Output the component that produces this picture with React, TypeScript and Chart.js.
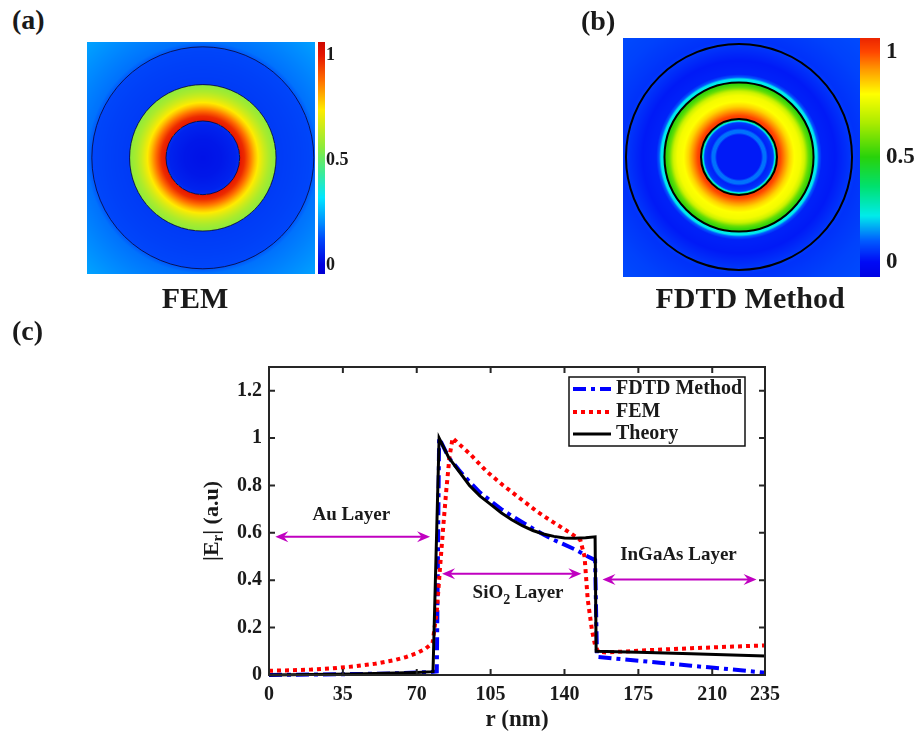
import React, { useEffect, useRef } from 'react';
import { Chart, registerables } from 'chart.js';

Chart.register(...registerables);

const SERIF = "'Liberation Serif', 'Times New Roman', Times, serif";
const TEXT = '#1a1a1a';

// ---------- panel (c): |E_r| versus r (nm)
const xTickValues = [0, 35, 70, 105, 140, 175, 210, 235];
const yTickValues = [0, 0.2, 0.4, 0.6, 0.8, 1, 1.2];

const fdtdR = [0, 20, 40, 60, 75, 79.5, 80.6, 85, 90, 95, 100, 105, 110, 115, 120, 125, 130, 135, 140, 145, 150, 154.5, 155.4, 170, 185, 200, 215, 235];
const fdtdV = [0, 0.002, 0.004, 0.007, 0.012, 0.015, 1.0, 0.92, 0.865, 0.815, 0.77, 0.735, 0.7, 0.672, 0.645, 0.618, 0.593, 0.57, 0.55, 0.53, 0.505, 0.485, 0.077, 0.064, 0.052, 0.039, 0.027, 0.01];

const femR = [0, 10, 20, 30, 40, 50, 60, 65, 70, 74, 77.5, 79.5, 81, 82.5, 84, 85.5, 87, 90, 95, 103, 111, 119, 127, 134.6, 142.6, 147.5, 149.5, 151, 153, 154.5, 156, 160, 180, 200, 220, 235];
const femV = [0.018, 0.02, 0.023, 0.028, 0.036, 0.047, 0.064, 0.076, 0.092, 0.11, 0.135, 0.27, 0.45, 0.62, 0.78, 0.92, 1.0, 0.975, 0.935, 0.86, 0.8, 0.745, 0.69, 0.645, 0.6, 0.57, 0.5, 0.32, 0.19, 0.125, 0.098, 0.095, 0.105, 0.113, 0.12, 0.125];

const theoryR = [0, 20, 40, 60, 70, 77.7, 80.6, 85, 90, 95, 100, 105, 110, 115, 120, 125, 130, 135, 140, 145, 150, 154.5, 155, 175, 200, 235];
const theoryV = [0, 0.002, 0.004, 0.008, 0.011, 0.014, 1.0, 0.92, 0.86, 0.8, 0.755, 0.72, 0.685, 0.655, 0.63, 0.61, 0.595, 0.585, 0.578, 0.577, 0.579, 0.583, 0.1, 0.096, 0.09, 0.08];

// layer annotations (data units)
const layerNames = ['Au Layer', 'SiO2 Layer', 'InGaAs Layer'];
const layerArrowFrom = [3, 82, 158];
const layerArrowTo = [76.3, 148, 231];
const layerArrowY = [0.583, 0.427, 0.403];
const layerLabelR = [39, 118, 194];
const layerLabelY = [0.675, 0.345, 0.505];

// ---------- panels (a) and (b): radial field maps
const femMapR = [0, 40, 70, 77.9, 78.1, 88, 98, 110, 120, 130, 140, 150, 154.9, 155.1, 200, 234.9, 235.1, 245, 300, 345];
const femMapV = [0.03, 0.04, 0.06, 0.08, 1.0, 0.97, 0.89, 0.79, 0.72, 0.66, 0.61, 0.575, 0.56, 0.1, 0.11, 0.12, 0.14, 0.17, 0.2, 0.23];
const fdtdMapR = [0, 46, 50, 56, 60, 66, 71, 74, 77, 78.9, 79.1, 86, 95, 105, 115, 128, 136, 144, 150, 154.9, 155.1, 157, 162, 166, 172, 200, 228, 235, 245, 300, 350];
const fdtdMapV = [0.02, 0.02, 0.12, 0.12, 0.03, 0.04, 0.06, 0.2, 0.38, 0.6, 1.03, 1.0, 0.93, 0.85, 0.8, 0.78, 0.72, 0.58, 0.52, 0.5, 0.14, 0.22, 0.22, 0.1, 0.03, 0.02, 0.05, 0.06, 0.05, 0.07, 0.08];
const femBoundaries = [78, 155, 235];
const fdtdBoundaries = [79, 155, 235];
const colorbarTicks = [0, 0.5, 1];

const jetA: number[][] = [
  [-0.1, 0, 0, 190], [0, 0, 0, 225], [0.12, 0, 70, 250], [0.2, 0, 140, 255], [0.32, 0, 230, 255],
  [0.44, 60, 235, 150], [0.56, 140, 235, 60], [0.74, 255, 235, 0], [0.88, 255, 110, 0], [1.0, 230, 20, 0], [1.1, 190, 0, 0],
];
const jetB: number[][] = [
  [-0.1, 0, 0, 220], [0, 0, 10, 245], [0.1, 0, 90, 255], [0.22, 0, 235, 235], [0.36, 0, 225, 110],
  [0.5, 40, 210, 10], [0.66, 170, 235, 0], [0.8, 255, 255, 0], [0.92, 255, 150, 0], [1.0, 255, 70, 0], [1.1, 225, 20, 0],
];

function interp(xs: number[], ys: number[], x: number) {
  if (x <= xs[0]) return ys[0];
  const n = xs.length;
  if (x >= xs[n - 1]) return ys[n - 1];
  let i = 1;
  while (xs[i] < x) i++;
  const t = (x - xs[i - 1]) / (xs[i] - xs[i - 1]);
  return ys[i - 1] + t * (ys[i] - ys[i - 1]);
}

function cmap(stops: number[][], v: number): number[] {
  if (v <= stops[0][0]) return stops[0].slice(1);
  const n = stops.length;
  if (v >= stops[n - 1][0]) return stops[n - 1].slice(1);
  let i = 1;
  while (stops[i][0] < v) i++;
  const a = stops[i - 1], b = stops[i];
  const t = (v - a[0]) / (b[0] - a[0]);
  return [0, 1, 2].map((k) => Math.round(a[k + 1] + t * (b[k + 1] - a[k + 1])));
}

type HeatCfg = {
  mapR: number[]; mapV: number[]; stops: number[][]; boundaries: number[];
  lineColor: string; lineWidth: number; cbGap: number; cbWidth: number;
  xMin: number; xMax: number; yMin: number; yMax: number; cbMin: number; cbMax: number;
  pad: { left: number; right: number; top: number; bottom: number }; cbAxisWidth: number; cbPad: number; fontSize: number;
};

function makeHeatmap(canvas: HTMLCanvasElement, cfg: HeatCfg) {
  const heatPlugin = {
    id: 'radialHeat',
    beforeDatasetsDraw(chart: any) {
      const { ctx, chartArea: a, scales } = chart;
      const xs = scales.x, ys = scales.y, cb = scales.cb;
      const left = Math.round(a.left), top = Math.round(a.top);
      const w = Math.round(a.right) - left, h = Math.round(a.bottom) - top;
      const img = ctx.createImageData(w, h);
      for (let j = 0; j < h; j++) {
        const yv = ys.getValueForPixel(top + j + 0.5);
        for (let i = 0; i < w; i++) {
          const xv = xs.getValueForPixel(left + i + 0.5);
          const v = interp(cfg.mapR, cfg.mapV, Math.hypot(xv, yv));
          const c = cmap(cfg.stops, v);
          const k = (j * w + i) * 4;
          img.data[k] = c[0]; img.data[k + 1] = c[1]; img.data[k + 2] = c[2]; img.data[k + 3] = 255;
        }
      }
      ctx.putImageData(img, left, top);
      ctx.save();
      const cx = xs.getPixelForValue(0), cy = ys.getPixelForValue(0);
      ctx.strokeStyle = cfg.lineColor;
      ctx.lineWidth = cfg.lineWidth;
      for (const b of cfg.boundaries) {
        const rx = xs.getPixelForValue(b) - cx;
        const ry = cy - ys.getPixelForValue(b);
        ctx.beginPath();
        ctx.ellipse(cx, cy, rx, ry, 0, 0, Math.PI * 2);
        ctx.stroke();
      }
      const x0 = a.right + cfg.cbGap;
      for (let py = top; py < top + h; py++) {
        const c = cmap(cfg.stops, cb.getValueForPixel(py + 0.5));
        ctx.fillStyle = `rgb(${c[0]},${c[1]},${c[2]})`;
        ctx.fillRect(x0, py, cfg.cbWidth, 1);
      }
      ctx.restore();
    },
  };
  return new Chart(canvas, {
    type: 'scatter',
    data: { datasets: [] },
    options: {
      responsive: false,
      animation: false,
      events: [],
      layout: { padding: cfg.pad },
      plugins: { legend: { display: false }, tooltip: { enabled: false } },
      scales: {
        x: { type: 'linear', min: cfg.xMin, max: cfg.xMax, display: false },
        y: { type: 'linear', min: cfg.yMin, max: cfg.yMax, display: false },
        cb: {
          axis: 'y', type: 'linear', position: 'right', min: cfg.cbMin, max: cfg.cbMax,
          grid: { display: false, drawTicks: false }, border: { display: false },
          afterBuildTicks: (s: any) => { s.ticks = colorbarTicks.map((v) => ({ value: v })); },
          afterFit: (s: any) => { s.width = cfg.cbAxisWidth; s.paddingTop = 0; s.paddingBottom = 0; },
          ticks: { padding: cfg.cbPad, color: TEXT, font: { family: SERIF, size: cfg.fontSize, weight: 'bold' }, callback: (v: any) => String(v) },
        },
      },
    } as any,
    plugins: [heatPlugin],
  });
}

function drawSegments(ctx: CanvasRenderingContext2D, segs: { t: string; size: number; dy: number }[], cx: number, cy: number) {
  let total = 0;
  for (const s of segs) { ctx.font = `bold ${s.size}px ${SERIF}`; total += ctx.measureText(s.t).width; }
  let x = cx - total / 2;
  ctx.textAlign = 'left';
  ctx.textBaseline = 'middle';
  for (const s of segs) {
    ctx.font = `bold ${s.size}px ${SERIF}`;
    ctx.fillText(s.t, x, cy + s.dy);
    x += ctx.measureText(s.t).width;
  }
}

function labelSegments(name: string) {
  const m = name.match(/^([A-Za-z]+?)(\d)(.*)$/);
  if (!m) return [{ t: name, size: 19, dy: 0 }];
  return [{ t: m[1], size: 19, dy: 0 }, { t: m[2], size: 14, dy: 7 }, { t: m[3], size: 19, dy: 0 }];
}

function drawArrowHead(ctx: CanvasRenderingContext2D, x: number, y: number, dir: number) {
  const hl = 13, hw = 5.5;
  ctx.beginPath();
  ctx.moveTo(x, y);
  ctx.lineTo(x + dir * hl, y - hw);
  ctx.lineTo(x + dir * hl * 0.65, y);
  ctx.lineTo(x + dir * hl, y + hw);
  ctx.closePath();
  ctx.fill();
}

function makeProfile(canvas: HTMLCanvasElement) {
  const pts = (rs: number[], vs: number[]) => rs.map((r, i) => ({ x: r, y: vs[i] }));
  const framePlugin = {
    id: 'frameTicks',
    afterDatasetsDraw(chart: any) {
      const { ctx, chartArea: a, scales } = chart;
      ctx.save();
      ctx.strokeStyle = '#262626';
      ctx.lineWidth = 2;
      ctx.strokeRect(a.left, a.top, a.right - a.left, a.bottom - a.top);
      const tl = 6;
      ctx.beginPath();
      for (const t of scales.x.ticks) {
        const px = scales.x.getPixelForValue(t.value);
        ctx.moveTo(px, a.bottom); ctx.lineTo(px, a.bottom - tl);
        ctx.moveTo(px, a.top); ctx.lineTo(px, a.top + tl);
      }
      for (const t of scales.y.ticks) {
        const py = scales.y.getPixelForValue(t.value);
        ctx.moveTo(a.left, py); ctx.lineTo(a.left + tl, py);
        ctx.moveTo(a.right, py); ctx.lineTo(a.right - tl, py);
      }
      ctx.stroke();
      ctx.restore();
    },
    afterDraw(chart: any) {
      const { ctx, chartArea: a, scales } = chart;
      const xs = scales.x, ys = scales.y;
      ctx.save();
      const mag = '#c000c0';
      ctx.lineWidth = 2;
      layerNames.forEach((name, i) => {
        const x1 = xs.getPixelForValue(layerArrowFrom[i]);
        const x2 = xs.getPixelForValue(layerArrowTo[i]);
        const y = ys.getPixelForValue(layerArrowY[i]);
        ctx.strokeStyle = mag; ctx.fillStyle = mag;
        ctx.beginPath(); ctx.moveTo(x1 + 8, y); ctx.lineTo(x2 - 8, y); ctx.stroke();
        drawArrowHead(ctx, x1, y, 1);
        drawArrowHead(ctx, x2, y, -1);
        ctx.fillStyle = TEXT;
        drawSegments(ctx, labelSegments(name), xs.getPixelForValue(layerLabelR[i]), ys.getPixelForValue(layerLabelY[i]));
      });
      ctx.fillStyle = TEXT;
      ctx.translate(212, (a.top + a.bottom) / 2);
      ctx.rotate(-Math.PI / 2);
      drawSegments(ctx, [{ t: '|E', size: 22, dy: 0 }, { t: 'r', size: 15, dy: 6 }, { t: '| (a.u)', size: 22, dy: 0 }], 0, 0);
      ctx.setTransform(1, 0, 0, 1, 0, 0);
      const lw = 176, lh = 69;
      const lx = a.right - 20 - lw, ly = a.top + 10;
      ctx.fillStyle = '#ffffff';
      ctx.fillRect(lx, ly, lw, lh);
      ctx.strokeStyle = '#111';
      ctx.lineWidth = 1.5;
      ctx.strokeRect(lx, ly, lw, lh);
      const rows = [12, 35, 57];
      chart.data.datasets.forEach((ds: any, i: number) => {
        const y = ly + rows[i];
        ctx.save();
        ctx.strokeStyle = ds.borderColor;
        ctx.lineWidth = ds.borderWidth;
        ctx.setLineDash(ds.borderDash || []);
        ctx.beginPath(); ctx.moveTo(lx + 4, y); ctx.lineTo(lx + 42, y); ctx.stroke();
        ctx.restore();
        ctx.fillStyle = TEXT;
        ctx.font = `bold 20px ${SERIF}`;
        ctx.textAlign = 'left';
        ctx.textBaseline = 'middle';
        ctx.fillText(ds.label, lx + 47, y);
      });
      ctx.restore();
    },
  };
  const tickFont = { family: SERIF, size: 20, weight: 'bold' };
  return new Chart(canvas, {
    type: 'line',
    data: {
      datasets: [
        { label: 'FDTD Method', data: pts(fdtdR, fdtdV), borderColor: '#0000ff', borderWidth: 4, borderDash: [13, 5, 4, 5], pointRadius: 0, fill: false, tension: 0, order: 3, clip: 10 },
        { label: 'FEM', data: pts(femR, femV), borderColor: '#ff0000', borderWidth: 4, borderDash: [4, 4], pointRadius: 0, fill: false, tension: 0, order: 2, clip: 10 },
        { label: 'Theory', data: pts(theoryR, theoryV), borderColor: '#000000', borderWidth: 3, pointRadius: 0, fill: false, tension: 0, order: 1, clip: 10 },
      ],
    },
    options: {
      responsive: false,
      animation: false,
      events: [],
      layout: { padding: { left: 219, right: 155, top: 67, bottom: 1 } },
      plugins: { legend: { display: false }, tooltip: { enabled: false } },
      scales: {
        x: {
          type: 'linear', min: 0, max: 235,
          afterBuildTicks: (s: any) => { s.ticks = xTickValues.map((v) => ({ value: v })); },
          afterFit: (s: any) => { s.height = 59; },
          grid: { display: false, drawTicks: false }, border: { display: false },
          ticks: { padding: 8, color: TEXT, font: tickFont, maxRotation: 0, autoSkip: false, callback: (v: any) => String(v) },
          title: { display: true, text: 'r (nm)', color: TEXT, font: { family: SERIF, size: 23, weight: 'bold' }, padding: 0 },
        },
        y: {
          type: 'linear', min: 0, max: 1.3,
          afterBuildTicks: (s: any) => { s.ticks = yTickValues.map((v) => ({ value: v })); },
          afterFit: (s: any) => { s.width = 50; },
          grid: { display: false, drawTicks: false }, border: { display: false },
          ticks: { padding: 7, color: TEXT, font: tickFont, autoSkip: false, callback: (v: any) => String(Number(Number(v).toFixed(1))) },
        },
      },
    } as any,
    plugins: [framePlugin],
  });
}

const panelLabel: React.CSSProperties = {
  position: 'absolute', fontFamily: SERIF, fontWeight: 'bold', color: TEXT, lineHeight: 1, whiteSpace: 'nowrap',
};

export default function App() {
  const aRef = useRef<HTMLCanvasElement>(null);
  const bRef = useRef<HTMLCanvasElement>(null);
  const cRef = useRef<HTMLCanvasElement>(null);

  useEffect(() => {
    const charts: Chart[] = [];
    charts.push(makeHeatmap(aRef.current!, {
      mapR: femMapR, mapV: femMapV, stops: jetA, boundaries: femBoundaries,
      lineColor: 'rgba(10,10,60,0.85)', lineWidth: 1, cbGap: 3, cbWidth: 7,
      xMin: -245.2, xMax: 237.5, yMin: -246, yMax: 245.2, cbMin: -0.043, cbMax: 1.062,
      pad: { left: 7, right: 15, top: 12, bottom: 16 }, cbAxisWidth: 50, cbPad: 11, fontSize: 18,
    }));
    charts.push(makeHeatmap(bRef.current!, {
      mapR: fdtdMapR, mapV: fdtdMapV, stops: jetB, boundaries: fdtdBoundaries,
      lineColor: '#000000', lineWidth: 2, cbGap: 0, cbWidth: 20,
      xMin: -241.2, xMax: 251.6, yMin: -249.6, yMax: 247.5, cbMin: -0.071, cbMax: 1.067,
      pad: { left: 23, right: 2, top: 18, bottom: 13 }, cbAxisWidth: 58, cbPad: 26, fontSize: 23,
    }));
    charts.push(makeProfile(cRef.current!));
    return () => charts.forEach((c) => c.destroy());
  }, []);

  return (
    <div style={{ position: 'fixed', left: 0, top: 0, width: 920, height: 735, background: '#ffffff', overflow: 'hidden' }}>
      <canvas ref={aRef} width={300} height={260} style={{ position: 'absolute', left: 80, top: 30 }} />
      <canvas ref={bRef} width={320} height={270} style={{ position: 'absolute', left: 600, top: 20 }} />
      <canvas ref={cRef} width={920} height={435} style={{ position: 'absolute', left: 0, top: 300 }} />
      <div style={{ ...panelLabel, left: 12, top: 6, fontSize: 28 }}>(a)</div>
      <div style={{ ...panelLabel, left: 581, top: 7, fontSize: 28 }}>(b)</div>
      <div style={{ ...panelLabel, left: 12, top: 317, fontSize: 28 }}>(c)</div>
      <div style={{ ...panelLabel, left: 95, width: 200, textAlign: 'center', top: 283, fontSize: 30 }}>FEM</div>
      <div style={{ ...panelLabel, left: 650, width: 200, textAlign: 'center', top: 283, fontSize: 30 }}>FDTD Method</div>
    </div>
  );
}
